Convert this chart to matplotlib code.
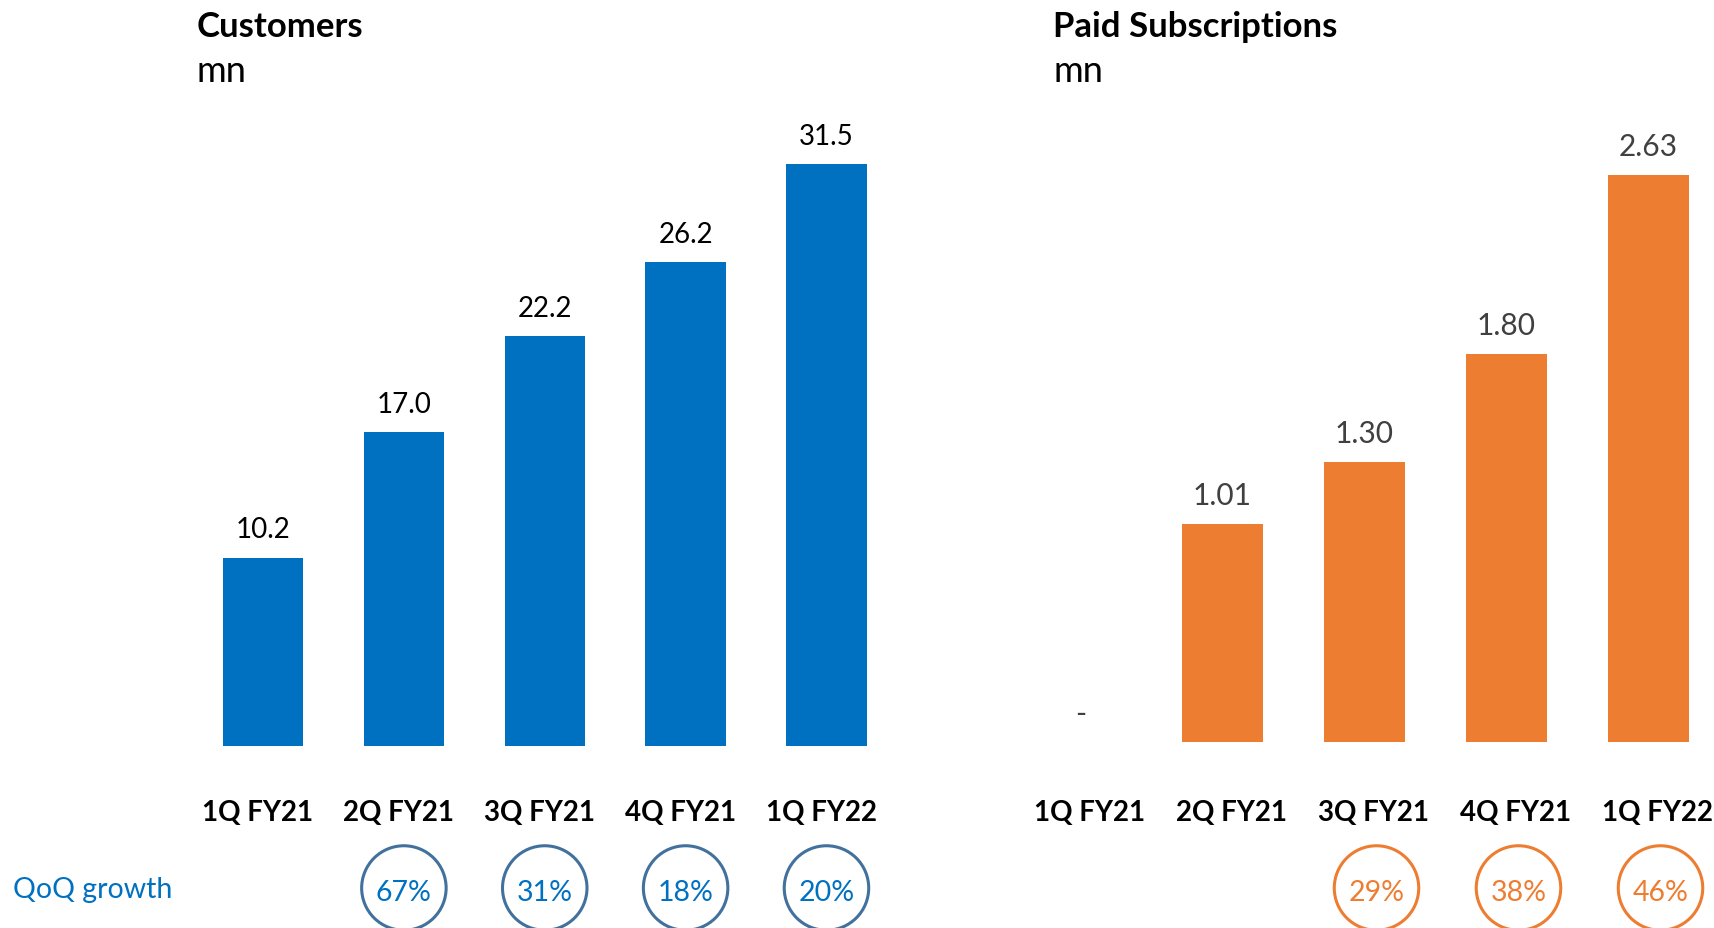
import matplotlib
matplotlib.use("Agg")
import matplotlib.pyplot as plt
import matplotlib.transforms as mtransforms

plt.rcParams['font.family'] = ['Lato', 'DejaVu Sans']

# data
quarters = ["1Q FY21", "2Q FY21", "3Q FY21", "4Q FY21", "1Q FY22"]
customers = [10.2, 17.0, 22.2, 26.2, 31.5]
customer_labels = ["10.2", "17.0", "22.2", "26.2", "31.5"]
customer_growth = ["", "67%", "31%", "18%", "20%"]
subscriptions = [0, 1.01, 1.30, 1.80, 2.63]
subscription_labels = ["-", "1.01", "1.30", "1.80", "2.63"]
subscription_growth = ["", "", "29%", "38%", "46%"]

BLUE = "#0070C0"
ORANGE = "#ED7D31"
W, H = 1715, 929

fig = plt.figure(figsize=(W / 100, H / 100), dpi=100)


def px_axes(left, bottom, width, height):
    # pixel rect (bottom measured from top of figure) -> figure fraction
    return fig.add_axes([left / W, (H - bottom) / H, width / W, height / H])


def fy(ypx):
    # y pixel measured from the top -> figure fraction
    return (H - ypx) / H


def draw_panel(ax, values, labels, growth, color, label_color, ring_color,
               ymax, lab_dx, ring_dx, val_size):
    x = list(range(len(quarters)))
    ax.bar(x, values, width=0.57, color=color)
    ax.set_xlim(-0.5, 4.5)
    ax.set_ylim(0, ymax)
    ax.axis("off")
    for i, (v, s) in enumerate(zip(values, labels)):
        ax.annotate(s, (i, v), xytext=(0, 14.5), textcoords="offset points",
                    ha="center", va="baseline", fontsize=val_size,
                    color=label_color)

    base = mtransforms.blended_transform_factory(ax.transData, fig.transFigure)
    lab_tr = mtransforms.offset_copy(base, fig=fig, x=lab_dx, units="dots")
    ring_tr = mtransforms.offset_copy(base, fig=fig, x=ring_dx, units="dots")
    for i, q in enumerate(quarters):
        ax.text(i, fy(821), q, transform=lab_tr, ha="center", va="baseline",
                fontsize=20, fontweight="bold", color="black")
    for i, g in enumerate(growth):
        if not g:
            continue
        ax.scatter([i], [fy(889)], s=3700, marker="o", facecolors="none",
                   edgecolors=ring_color, linewidths=2.2, transform=ring_tr,
                   clip_on=False)
        ax.text(i, fy(901), g, transform=ring_tr, ha="center", va="baseline",
                fontsize=20.5, color=color)


ax1 = px_axes(192.6, 747, 704.3, 646.5)
draw_panel(ax1, customers, customer_labels, customer_growth, BLUE, "black",
           "#41719C", 35, -5, 0, 20)

ax2 = px_axes(1009.5, 743, 710, 646.5)
draw_panel(ax2, subscriptions, subscription_labels, subscription_growth, ORANGE,
           "#404040", ORANGE, 3, 9, 12, 21.5)

fig.text(197 / W, fy(37), "Customers", fontsize=25, fontweight="bold",
         va="baseline")
fig.text(197 / W, fy(82), "mn", fontsize=26, va="baseline")
fig.text(1053 / W, fy(37), "Paid Subscriptions", fontsize=25, fontweight="bold",
         va="baseline")
fig.text(1053 / W, fy(82), "mn", fontsize=26, va="baseline")
fig.text(13 / W, fy(898), "QoQ growth", fontsize=20.5, color=BLUE, va="baseline")

fig.savefig("out.png", dpi=100)
